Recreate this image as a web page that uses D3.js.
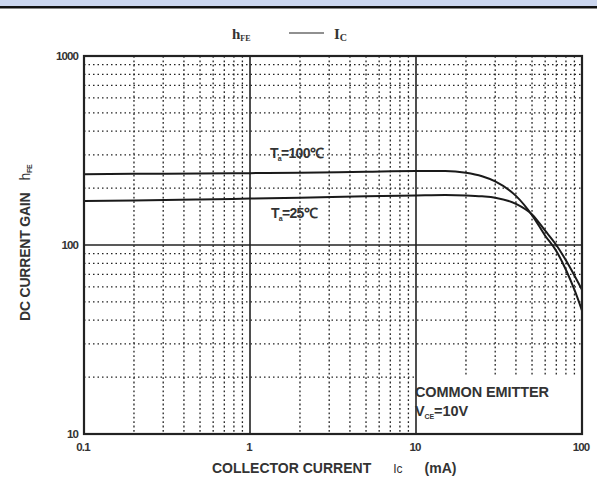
<!DOCTYPE html>
<html>
<head>
<meta charset="utf-8">
<script src="https://cdn.jsdelivr.net/npm/d3@7"></script>
<style>
  body { margin: 0; background: #fff; }
  svg text { font-family: "Liberation Sans", Arial, sans-serif; fill: #333; font-weight: bold; }
</style>
</head>
<body>
<div id="chart"></div>
<script>
// collector current (mA) and DC current gain per temperature
const currents = [0.1, 0.2, 0.5, 1, 2, 5, 10, 15, 20, 25, 30, 40, 50, 60, 70, 80, 90, 100];
const gain100 = [237, 238, 239, 240, 241, 244, 246, 246, 241, 231, 217, 182, 144, 112, 93, 74, 58, 45];
const gain25 = [171, 172, 174, 176, 178, 181, 183, 184, 183, 181, 178, 165, 145, 119, 100, 83, 69, 58];
const xTicks = [0.1, 1, 10, 100];
const yTicks = [10, 100, 1000];

const W = 597, H = 478;
const m = { left: 84, right: 582, top: 56, bottom: 434 };

const svg = d3.select("#chart").append("svg")
    .attr("width", W)
    .attr("height", H);

// header band
svg.append("rect").attr("x", 0).attr("y", 0).attr("width", W).attr("height", 6).attr("fill", "#cbd6ef");
svg.append("rect").attr("x", 0).attr("y", 6).attr("width", W).attr("height", 2.5).attr("fill", "#111");

const x = d3.scaleLog().domain([0.1, 100]).range([m.left, m.right]);
const y = d3.scaleLog().domain([10, 1000]).range([m.bottom, m.top]);

// minor grid values
const minorX = [], minorY = [];
[0.1, 1, 10].forEach(d => { for (let k = 2; k <= 9; k++) minorX.push(+(d * k).toFixed(3)); });
[10, 100].forEach(d => { for (let k = 2; k <= 9; k++) minorY.push(d * k); });

const grid = svg.append("g");
grid.selectAll(".mx").data(minorX).join("line")
    .attr("x1", d => x(d)).attr("x2", d => x(d))
    .attr("y1", m.top).attr("y2", m.bottom)
    .attr("stroke", "#222").attr("stroke-width", 1.3)
    .attr("stroke-dasharray", "1.8,2.6");
grid.selectAll(".my").data(minorY).join("line")
    .attr("x1", m.left).attr("x2", m.right)
    .attr("y1", d => y(d)).attr("y2", d => y(d))
    .attr("stroke", "#222").attr("stroke-width", 1.3)
    .attr("stroke-dasharray", "1.5,3");

// major grid
grid.selectAll(".Mx").data([1, 10]).join("line")
    .attr("x1", d => x(d)).attr("x2", d => x(d))
    .attr("y1", m.top).attr("y2", m.bottom)
    .attr("stroke", "#222").attr("stroke-width", 1.6);
grid.append("line")
    .attr("x1", m.left).attr("x2", m.right)
    .attr("y1", y(100)).attr("y2", y(100))
    .attr("stroke", "#222").attr("stroke-width", 1.6);

// blank box behind the note
svg.append("rect")
    .attr("x", x(10) + 1).attr("y", 376)
    .attr("width", m.right - x(10) - 1).attr("height", m.bottom - 376)
    .attr("fill", "#fff");

// curves
const line = d3.line()
    .x(d => x(d[0]))
    .y(d => y(d[1]))
    .curve(d3.curveMonotoneX);
[gain100, gain25].forEach(g => {
  svg.append("path")
      .datum(currents.map((c, i) => [c, g[i]]))
      .attr("d", line)
      .attr("fill", "none")
      .attr("stroke", "#1a1a1a")
      .attr("stroke-width", 2);
});

// frame
svg.append("rect")
    .attr("x", m.left).attr("y", m.top)
    .attr("width", m.right - m.left).attr("height", m.bottom - m.top)
    .attr("fill", "none").attr("stroke", "#222").attr("stroke-width", 2.2);

// axes labels
svg.selectAll(".yt").data(yTicks).join("text")
    .attr("x", 78).attr("y", d => y(d) + 4)
    .attr("text-anchor", "end")
    .attr("font-size", 11.5).attr("letter-spacing", -0.9)
    .text(d => d);
svg.selectAll(".xt").data(xTicks).join("text")
    .attr("x", d => x(d) - 1).attr("y", 451)
    .attr("text-anchor", "middle")
    .attr("font-size", 11.5).attr("letter-spacing", -0.9)
    .text(d => d);

// x title
const xt = svg.append("text").attr("x", 212).attr("y", 473).attr("font-size", 14);
xt.append("tspan").text("COLLECTOR CURRENT");
xt.append("tspan").attr("dx", 22).attr("font-weight", "normal").attr("font-size", 12).text("Ic");
xt.append("tspan").attr("dx", 22).text("(mA)");

// y title
const yt = svg.append("text")
    .attr("transform", "translate(30,321) rotate(-90)")
    .attr("font-size", 14).attr("letter-spacing", -0.2);
yt.append("tspan").text("DC CURRENT GAIN");
yt.append("tspan").attr("dx", 12).attr("font-weight", "normal").text("h");
yt.append("tspan").attr("font-size", 7).attr("dy", 2).text("FE");

// chart title
const serif = "'Liberation Serif', 'DejaVu Serif', serif";
const tt = svg.append("text").attr("x", 232).attr("y", 39).attr("font-size", 15);
tt.append("tspan").style("font-family", serif).text("h");
tt.append("tspan").style("font-family", serif).attr("font-size", 8).attr("dy", 2).text("FE");
svg.append("line").attr("x1", 289).attr("x2", 324).attr("y1", 33).attr("y2", 33)
    .attr("stroke", "#222").attr("stroke-width", 1.2);
const t2 = svg.append("text").attr("x", 334).attr("y", 39).attr("font-size", 15);
t2.append("tspan").style("font-family", serif).text("I");
t2.append("tspan").style("font-family", serif).attr("font-size", 10).attr("dy", 2).text("C");

// temperature notes
const addTemp = (tx, ty, label) => {
  const t = svg.append("text").attr("x", tx).attr("y", ty).attr("font-size", 14).attr("letter-spacing", -0.7);
  t.append("tspan").text("T");
  t.append("tspan").attr("font-size", 7).attr("dy", 3).text("a");
  t.append("tspan").attr("dy", -3).text(label);
};
addTemp(270, 158, "=100\u2103");
addTemp(271, 218, "=25\u2103");

// common emitter note
svg.append("text").attr("x", 415).attr("y", 397).attr("font-size", 14.5).attr("letter-spacing", -0.1)
    .text("COMMON EMITTER");
const vce = svg.append("text").attr("x", 415).attr("y", 416).attr("font-size", 14.5).attr("letter-spacing", -0.1);
vce.append("tspan").text("V");
vce.append("tspan").attr("font-size", 7).attr("dy", 3).text("CE");
vce.append("tspan").attr("dy", -3).text("=10V");
</script>
</body>
</html>
